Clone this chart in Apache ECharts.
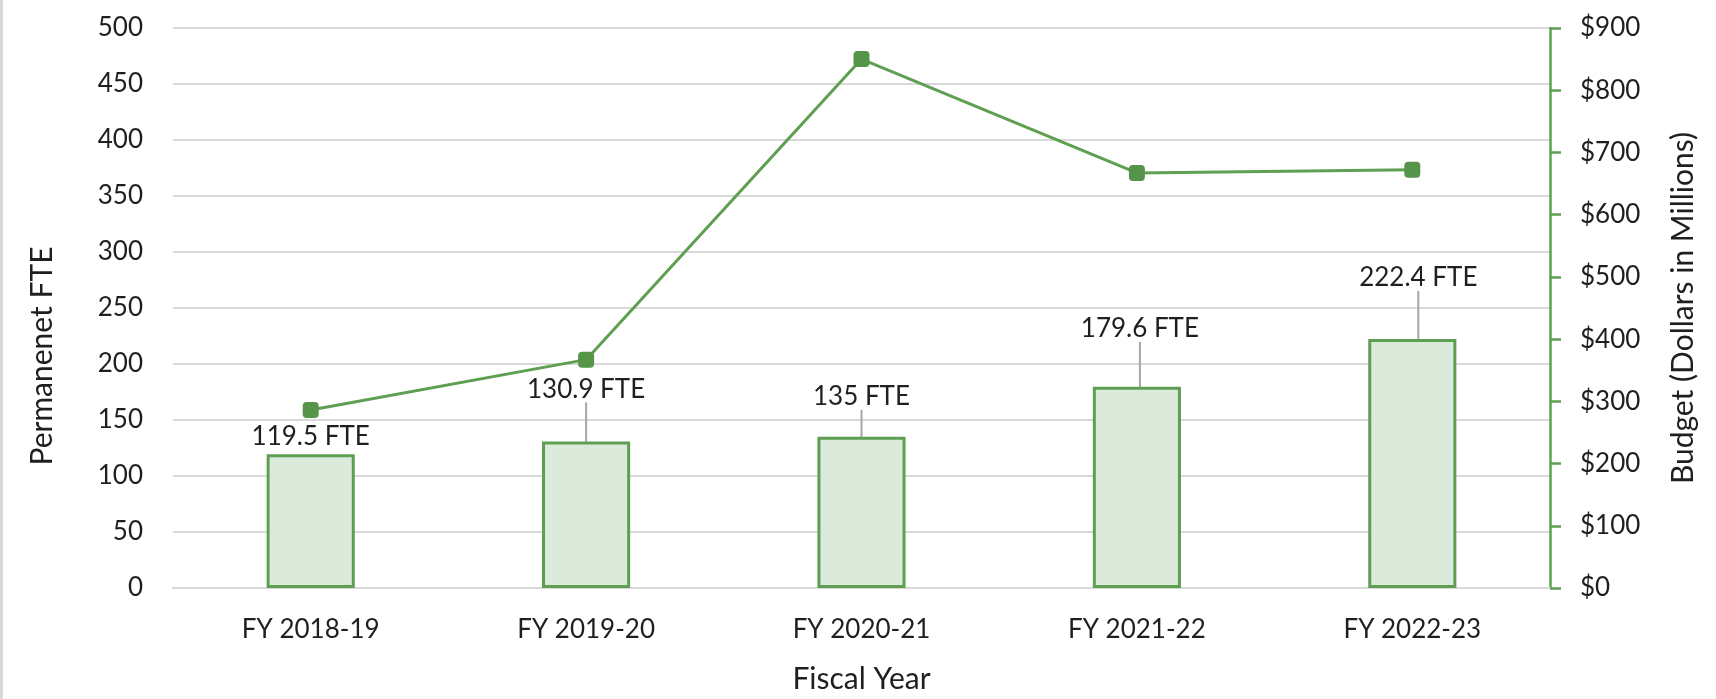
<!DOCTYPE html>
<html lang="en">
<head>
    <meta charset="UTF-8">
    <title>Permanent FTE and Budget</title>
    <style>
        html, body { margin: 0; padding: 0; background: #ffffff; }
        #main { width: 1716px; height: 699px; }
    </style>
</head>
<body>
    <div id="main"></div>
    <script src="https://cdn.jsdelivr.net/npm/echarts@6/dist/echarts.min.js"></script>
    <script>
        // data
        var years = ['FY 2018-19', 'FY 2019-20', 'FY 2020-21', 'FY 2021-22', 'FY 2022-23'];
        var fte = [119.5, 130.9, 135, 179.6, 222.4];
        var budget = [286, 367, 850, 667, 672];

        // how far each callout sits away from its bar (label shift)
        var calloutDy = [6, -28, -16, -34, -37];
        var calloutDx = [0, 0, 0, 3, 6];

        var green = '#5e9f51';
        var textColor = '#1f1f1f';
        var font = 'Lato';

        var chart = echarts.init(document.getElementById('main'));

        var option = {
            animation: false,
            textStyle: { fontFamily: font },
            graphic: [
                {
                    type: 'rect',
                    left: 0, top: 0,
                    shape: { width: 3, height: 699 },
                    style: { fill: '#d9d9d9' }
                }
            ],
            grid: { left: 173, right: 166, top: 28, bottom: 110 },
            xAxis: {
                type: 'category',
                data: years,
                name: 'Fiscal Year',
                nameLocation: 'middle',
                nameGap: 76,
                nameTextStyle: { fontSize: 30, color: textColor, fontFamily: font },
                axisLine: { show: true, lineStyle: { color: '#d9d9d9', width: 2 } },
                axisTick: { show: false },
                axisLabel: { fontSize: 26, color: textColor, margin: 29, fontFamily: font }
            },
            yAxis: [
                {
                    type: 'value',
                    min: 0, max: 500, interval: 50,
                    name: 'Permanenet FTE',
                    nameLocation: 'middle',
                    nameGap: 116,
                    nameTextStyle: { fontSize: 30, color: textColor, fontFamily: font, padding: [0, 96, 0, 0] },
                    axisLine: { show: false },
                    axisTick: { show: false },
                    axisLabel: { fontSize: 26, color: textColor, margin: 30, fontFamily: font },
                    splitLine: { lineStyle: { color: '#d9d9d9', width: 2 } }
                },
                {
                    type: 'value',
                    min: 0, max: 900, interval: 100,
                    position: 'right',
                    name: 'Budget (Dollars in Millions)',
                    nameLocation: 'middle',
                    nameGap: 118,
                    nameTextStyle: { fontSize: 30, color: textColor, fontFamily: font },
                    axisLine: { show: true, lineStyle: { color: green, width: 2.5 } },
                    axisTick: { show: true, length: 11, lineStyle: { color: green, width: 2.5 } },
                    axisLabel: {
                        fontSize: 26, color: textColor, margin: 30, fontFamily: font,
                        formatter: function (v) { return '$' + v; }
                    },
                    splitLine: { show: false }
                }
            ],
            series: [
                {
                    name: 'Permanent FTE',
                    type: 'bar',
                    yAxisIndex: 0,
                    barWidth: '32%',
                    data: fte.map(function (v, i) {
                        return { value: v, labelLine: { show: i > 0 } };
                    }),
                    itemStyle: { color: '#dbeadb', borderColor: green, borderWidth: 3 },
                    label: {
                        show: true,
                        position: 'top',
                        distance: 5,
                        padding: [0, 0, 6, 0],
                        fontSize: 26,
                        color: textColor,
                        fontFamily: font,
                        formatter: function (p) { return p.value + ' FTE'; }
                    },
                    labelLine: { show: true, lineStyle: { color: '#a6a6a6', width: 2 } },
                    labelLayout: function (p) {
                        return { dx: calloutDx[p.dataIndex], dy: calloutDy[p.dataIndex] };
                    },
                    z: 2
                },
                {
                    name: 'Budget',
                    type: 'line',
                    yAxisIndex: 1,
                    data: budget,
                    symbol: 'roundRect',
                    symbolSize: 16,
                    lineStyle: { color: green, width: 3 },
                    itemStyle: { color: '#56944a' },
                    z: 3
                }
            ]
        };

        chart.setOption(option);
    </script>
</body>
</html>
